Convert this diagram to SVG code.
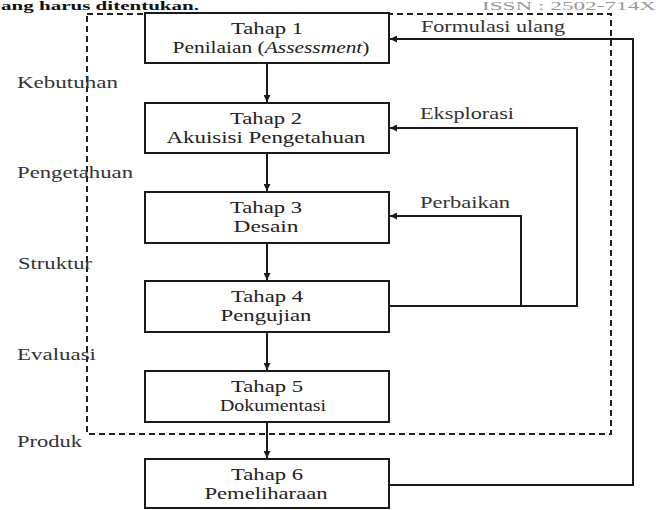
<svg xmlns="http://www.w3.org/2000/svg" width="662" height="510" viewBox="0 0 662 510">
<style>
.box{fill:#fff;stroke:#1a1a1a;stroke-width:2}
.ln{fill:none;stroke:#1a1a1a;stroke-width:2}
.dash{fill:none;stroke:#222;stroke-width:2;stroke-dasharray:6 4}
</style>
<defs>
<marker id="ah" viewBox="0 0 10 10" refX="10" refY="5" markerWidth="8" markerHeight="7" markerUnits="userSpaceOnUse" orient="auto">
<path d="M0,0 L10,5 L0,10 z" fill="#1a1a1a"/>
</marker>
</defs>
<rect width="662" height="510" fill="#fff"/>
<g font-family="Liberation Serif, Times New Roman, serif" font-size="17">
<text x="1" y="10" font-size="12" font-weight="bold" fill="#111" textLength="198" lengthAdjust="spacingAndGlyphs">ang harus ditentukan.</text>
<text x="482" y="10" font-size="12" fill="#999" textLength="174" lengthAdjust="spacingAndGlyphs">ISSN : 2502-714X</text>
<rect id="scope" class="dash" x="87" y="14" width="524" height="420"/>
<g id="labels" fill="#333">
<text x="17" y="88" textLength="101" lengthAdjust="spacingAndGlyphs">Kebutuhan</text>
<text x="17" y="178" textLength="116" lengthAdjust="spacingAndGlyphs">Pengetahuan</text>
<text x="18" y="269" textLength="74" lengthAdjust="spacingAndGlyphs">Struktur</text>
<text x="17" y="360" textLength="79" lengthAdjust="spacingAndGlyphs">Evaluasi</text>
<text x="17" y="447" textLength="65" lengthAdjust="spacingAndGlyphs">Produk</text>
</g>
<g id="connectors">
<line class="ln" x1="267" y1="64" x2="267" y2="102" marker-end="url(#ah)"/>
<line class="ln" x1="267" y1="154" x2="267" y2="191" marker-end="url(#ah)"/>
<line class="ln" x1="267" y1="244" x2="267" y2="280" marker-end="url(#ah)"/>
<line class="ln" x1="267" y1="333" x2="267" y2="370" marker-end="url(#ah)"/>
<line class="ln" x1="267" y1="423" x2="267" y2="458" marker-end="url(#ah)"/>
<polyline class="ln" points="390,485 633,485 633,39 390,39" marker-end="url(#ah)"/>
<polyline class="ln" points="390,306 577,306 577,128 390,128" marker-end="url(#ah)"/>
<polyline class="ln" points="521,306 521,216 390,216" marker-end="url(#ah)"/>
<text x="421" y="32" fill="#333" textLength="144" lengthAdjust="spacingAndGlyphs">Formulasi ulang</text>
<text x="420" y="119" fill="#333" textLength="94" lengthAdjust="spacingAndGlyphs">Eksplorasi</text>
<text x="420" y="208" fill="#333" textLength="90" lengthAdjust="spacingAndGlyphs">Perbaikan</text>
</g>
<g text-anchor="middle" fill="#222">
<g id="tahap1">
<rect class="box" x="145" y="13" width="244" height="50"/>
<text x="267" y="34" textLength="72" lengthAdjust="spacingAndGlyphs">Tahap 1</text>
<text x="271" y="53" textLength="197" lengthAdjust="spacingAndGlyphs">Penilaian (<tspan font-style="italic">Assessment</tspan>)</text>
</g>
<g id="tahap2">
<rect class="box" x="145" y="103" width="244" height="50"/>
<text x="266" y="124" textLength="72" lengthAdjust="spacingAndGlyphs">Tahap 2</text>
<text x="266" y="143" textLength="199" lengthAdjust="spacingAndGlyphs">Akuisisi Pengetahuan</text>
</g>
<g id="tahap3">
<rect class="box" x="145" y="192" width="244" height="51"/>
<text x="266" y="213" textLength="72" lengthAdjust="spacingAndGlyphs">Tahap 3</text>
<text x="266" y="232" textLength="65" lengthAdjust="spacingAndGlyphs">Desain</text>
</g>
<g id="tahap4">
<rect class="box" x="145" y="281" width="244" height="51"/>
<text x="267" y="302" textLength="72" lengthAdjust="spacingAndGlyphs">Tahap 4</text>
<text x="266" y="321" textLength="91" lengthAdjust="spacingAndGlyphs">Pengujian</text>
</g>
<g id="tahap5">
<rect class="box" x="145" y="371" width="244" height="51"/>
<text x="267" y="392" textLength="72" lengthAdjust="spacingAndGlyphs">Tahap 5</text>
<text x="273" y="411" textLength="106" lengthAdjust="spacingAndGlyphs">Dokumentasi</text>
</g>
<g id="tahap6">
<rect class="box" x="145" y="459" width="244" height="49"/>
<text x="267" y="480" textLength="72" lengthAdjust="spacingAndGlyphs">Tahap 6</text>
<text x="266" y="499" textLength="123" lengthAdjust="spacingAndGlyphs">Pemeliharaan</text>
</g>
</g>
</g>
</svg>
